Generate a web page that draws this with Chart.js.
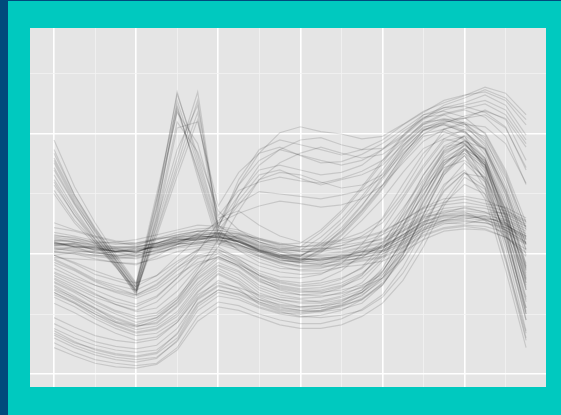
<!DOCTYPE html>
<html>
<head>
<meta charset="utf-8">
<script src="https://cdn.jsdelivr.net/npm/chart.js@4"></script>
<style>
  html, body { margin: 0; padding: 0; background: #00C9BF; }
  #strip { position: absolute; left: 0; top: 0; width: 8px; height: 415px; background: #004A7C; }
  #topline { position: absolute; left: 0; top: 0; width: 561px; height: 1px; background: #004A7C; }
  #wrap { position: absolute; left: 0; top: 0; width: 561px; height: 415px; }
</style>
</head>
<body>
<div id="strip"></div>
<div id="topline"></div>
<div id="wrap"><canvas id="chart" width="561" height="415"></canvas></div>
<script>
// sample positions along the x axis
const xs = [0, 1, 2, 3, 4, 5, 6, 7, 8, 9, 10, 11, 12, 13, 14, 15, 16, 17, 18, 19, 20, 21, 22, 23];

// gridline positions
const xMajor = [0, 4, 8, 12, 16, 20];
const xMinor = [2, 6, 10, 14, 18, 22];
const yMajor = [0, 10, 20];
const yMinor = [5, 15, 25];

// the dense flat band
const bandA = [
    [10.9,10.8,10.5,10.3,10.2,10.7,11.2,11.4,11.5,11.1,10.4,9.9,9.6,9.5,9.8,10.1,10.5,11.4,12.4,13.0,13.1,13.0,12.6,11.7],
    [11.4,11.2,10.9,10.6,10.6,10.9,11.5,11.7,11.8,11.5,10.9,10.3,10.0,10.0,10.2,10.6,11.0,11.9,12.9,13.5,13.6,13.4,13.1,12.3],
    [10.4,10.3,10.1,9.9,9.9,10.3,10.8,11.0,11.2,10.8,10.1,9.6,9.2,9.2,9.4,9.7,10.0,10.8,11.8,12.5,12.7,12.6,12.2,11.2],
    [11.0,10.6,10.6,10.2,10.5,10.5,11.0,11.6,11.3,11.3,10.6,10.0,9.5,9.7,9.7,10.2,10.3,11.2,12.1,12.8,13.3,12.9,12.8,11.9],
    [10.7,10.9,10.3,10.5,10.1,10.9,11.3,11.1,11.7,11.0,10.3,9.8,9.7,9.4,9.9,9.9,10.6,11.5,12.5,12.8,12.9,13.2,12.4,11.5],
    [11.8,11.5,11.1,10.9,10.8,11.2,11.6,11.9,12.0,11.6,11.0,10.5,10.2,10.2,10.5,10.8,11.3,12.2,13.2,13.8,14.0,13.8,13.3,12.5],
    [10.1,10.0,9.8,9.6,9.7,10.0,10.6,10.9,11.0,10.6,9.9,9.3,9.0,9.0,9.2,9.5,9.8,10.6,11.6,12.2,12.4,12.3,11.8,10.8],
    [11.2,11.0,10.7,10.4,10.4,10.8,11.0,11.4,11.6,11.4,10.7,10.2,9.8,9.8,10.0,10.3,10.7,11.6,12.6,13.2,13.4,13.2,12.9,12.1],
    [10.8,10.6,10.4,10.2,10.3,10.6,11.1,11.3,11.4,11.0,10.4,9.8,9.5,9.6,9.9,10.2,10.6,11.6,12.7,13.3,13.5,12.8,11.5,9.8],
    [10.6,10.5,10.2,10.1,10.0,10.5,10.9,11.2,11.4,11.0,10.2,9.7,9.4,9.3,9.6,9.9,10.2,11.0,12.0,12.7,12.8,12.6,12.0,10.9],
    [12.2,11.9,11.4,11.0,11.2,11.6,12.0,12.4,12.3,12.0,11.3,10.8,10.6,10.7,10.9,11.3,11.8,12.8,13.8,14.3,14.6,14.2,13.9,13.0],
    [9.7,9.6,9.5,9.3,9.2,9.6,10.2,10.5,10.8,10.3,9.6,9.0,8.6,8.6,8.9,9.1,9.4,10.2,11.2,11.9,12.1,12.0,11.4,10.4],
    [11.5,11.4,10.9,11.0,10.7,11.3,11.4,11.9,11.7,11.7,11.0,10.6,10.3,10.5,10.4,10.9,11.2,12.0,13.1,13.4,13.9,13.5,13.4,12.7],
    [10.3,10.6,10.0,10.2,9.8,10.4,10.9,10.8,11.3,10.7,10.2,9.5,9.3,9.1,9.5,9.6,10.2,10.9,12.0,12.6,12.5,12.9,12.0,11.0],
    [11.1,11.2,10.7,10.6,10.6,10.9,11.4,11.5,11.8,11.3,10.6,10.2,9.9,9.9,10.1,10.5,10.9,11.9,13.0,13.6,13.8,13.5,12.6,10.9],
    [10.5,10.2,10.2,9.8,10.1,10.2,10.8,11.3,11.1,11.1,10.3,9.7,9.3,9.5,9.6,10.0,10.5,11.4,12.4,13.1,13.2,12.9,12.2,11.4],
    [12.6,12.0,11.5,11.1,10.9,11.3,11.8,12.1,12.2,11.8,11.2,10.7,10.4,10.4,10.7,11.0,11.6,12.5,13.5,14.1,14.3,14.0,13.6,12.8],
    [9.9,10.1,9.9,9.8,9.6,10.1,10.5,10.7,10.9,10.5,9.8,9.2,8.9,8.9,9.1,9.4,9.7,10.5,11.5,12.1,12.3,12.1,11.4,10.1]
];

// band lines that climb early into the right hump
const humpEarly = [
    [10.9,10.7,10.4,10.2,10.3,10.6,11.1,11.4,11.5,11.1,10.4,9.9,9.8,10.8,12.2,14.1,16.2,18.6,20.4,20.8,20.1,18.6,14.9,9.9],
    [11.3,11.0,10.8,10.5,10.6,10.9,11.4,11.6,11.7,11.4,10.8,10.3,10.3,11.4,12.9,14.8,17.0,19.3,21.0,21.2,20.6,19.2,15.6,10.8],
    [10.5,10.4,10.1,9.9,9.9,10.3,10.8,11.0,11.2,10.8,10.0,9.5,9.3,10.1,11.5,13.3,15.4,17.8,19.8,20.2,19.5,17.9,14.1,9.2],
    [10.8,10.9,10.5,10.4,10.1,10.8,11.2,11.3,11.6,11.2,10.5,10.0,9.9,10.6,11.9,13.6,15.7,18.2,20.3,21.1,20.9,19.6,16.0,11.2],
    [11.0,10.6,10.6,10.2,10.4,10.6,11.0,11.5,11.4,11.1,10.3,9.8,9.6,10.3,11.6,13.5,15.5,18.0,20.0,20.4,19.6,17.6,13.4,8.4],
    [10.7,10.8,10.3,10.3,10.2,10.7,11.2,11.2,11.5,11.0,10.5,9.9,9.8,11.0,12.6,14.6,16.7,19.0,20.8,21.3,20.8,19.0,15.2,10.4],
    [11.6,11.3,11.0,10.8,10.9,11.2,11.6,11.9,12.0,11.7,11.2,10.8,10.9,12.0,13.6,15.6,17.8,19.9,21.6,21.9,21.4,20.0,16.8,12.0],
    [10.2,10.1,9.9,9.7,9.8,10.1,10.6,10.9,11.1,10.7,9.9,9.4,9.4,10.4,12.0,14.0,16.4,18.9,20.6,20.9,20.3,18.3,14.2,8.9],
    [11.1,11.0,10.6,10.5,10.5,10.9,11.3,11.6,11.7,11.3,10.7,10.4,10.6,11.8,13.4,15.4,17.6,19.8,21.4,21.6,20.9,19.4,16.4,12.2],
    [10.9,10.6,10.5,10.2,10.2,10.6,11.0,11.2,11.4,11.0,10.2,9.7,9.5,10.2,11.2,12.8,14.6,16.8,18.8,19.6,19.2,17.4,13.6,8.8]
];

// high start, pinch, then the sharp spike
const spike = [
    [17.8,14.5,11.8,9.5,7.2,14.1,23.5,17.8,12.2,15.75,17.8,18.7,18.25,17.8,17.4,17.8,18.7,19.75,21.2,22.0,22.4,22.8,22.0,19.5],
    [16.6,13.7,11.3,9.2,6.8,13.25,22.8,17.4,11.8,11.0,10.3,9.8,9.6,9.6,9.8,10.2,10.6,11.6,12.7,13.2,13.25,13.1,12.5,11.3],
    [15.75,13.25,11.2,9.1,7.0,13.7,22.0,17.0,11.6,14.5,16.6,17.0,16.3,15.75,16.2,16.6,17.4,19.1,20.5,21.2,21.3,22.0,21.2,17.8],
    [18.7,14.9,12.2,9.75,7.4,14.5,23.3,18.25,12.4,11.2,10.3,9.9,9.9,10.5,11.8,13.7,15.75,18.25,20.3,20.75,20.2,18.7,15.3,10.3],
    [17.0,14.1,11.6,9.3,6.8,12.4,18.0,23.5,12.2,16.2,18.7,19.5,19.1,18.7,18.25,18.7,19.5,20.75,21.8,22.8,23.25,23.5,22.8,20.75],
    [15.3,12.8,11.0,9.0,6.7,12.0,17.4,22.8,12.0,10.75,10.2,9.7,9.5,9.5,9.7,9.9,10.3,11.2,12.2,12.8,13.0,12.8,12.4,11.5],
    [18.0,14.7,12.0,9.5,7.2,12.8,18.7,22.4,12.4,14.9,17.0,17.4,17.0,16.6,16.8,17.4,18.7,20.2,21.3,22.2,22.6,23.25,22.4,19.9],
    [16.2,13.5,11.2,9.2,7.0,11.8,17.0,21.8,11.6,10.3,9.3,8.8,8.7,8.8,9.3,9.75,10.75,12.4,14.9,17.8,19.1,17.8,13.25,7.0],
    [17.2,14.2,11.5,9.4,7.0,13.0,21.0,18.5,13.6,12.0,11.0,10.4,10.2,10.3,10.7,11.5,12.6,14.8,17.4,19.6,20.4,19.8,16.6,11.4],
    [19.5,15.6,12.6,10.0,7.6,15.0,22.4,16.4,10.8,11.6,11.3,10.9,10.6,10.8,11.1,11.4,11.9,12.8,13.9,14.6,14.8,14.5,13.8,12.3],
    [16.0,13.2,11.0,9.0,6.6,12.5,20.5,21.0,14.0,16.8,18.4,18.9,18.2,17.6,17.7,18.3,19.2,20.4,21.6,22.2,22.3,21.8,20.6,17.0],
    [18.4,14.9,12.1,9.8,7.5,13.8,22.2,16.8,11.2,10.4,9.8,9.3,9.0,9.1,9.6,10.4,11.6,13.8,16.2,18.6,19.4,18.8,15.0,9.0],
    [15.0,12.6,10.8,8.9,6.9,11.5,16.5,21.2,13.2,15.3,16.0,16.4,16.1,15.9,16.3,16.9,17.8,19.4,20.8,21.6,22.0,21.4,19.8,15.8],
    [17.6,14.3,11.9,9.6,7.3,14.6,21.8,19.2,13.0,13.6,12.4,11.5,11.0,10.9,11.2,11.8,12.9,15.2,18.0,20.4,21.0,20.1,17.0,12.6]
];

// faint lines through the upper middle
const upperCloud = [
    [7.4,6.5,5.5,4.7,4.1,4.7,6.2,8.7,11.2,14.9,17.4,18.7,19.5,19.7,19.1,18.7,18.8,19.9,21.3,22.4,23.0,23.7,23.0,21.2],
    [9.5,8.7,7.8,7.2,6.6,7.4,8.8,10.3,12.0,14.1,16.2,16.8,16.6,16.0,15.5,15.75,16.6,18.7,20.3,21.0,21.3,21.6,20.5,17.2],
    [8.2,7.4,6.6,6.0,5.6,6.4,8.0,10.2,12.6,15.8,18.4,20.1,20.6,20.2,20.0,19.6,19.8,20.8,21.9,22.6,23.2,23.9,23.4,21.6],
    [9.9,9.2,8.3,7.8,7.3,8.2,9.8,11.3,12.8,14.2,15.2,15.0,14.8,14.6,14.9,15.3,16.4,18.4,20.0,20.9,21.5,21.9,21.3,18.9],
    [6.8,5.9,5.0,4.3,3.9,4.5,6.0,8.4,10.6,13.6,16.2,17.6,18.4,18.9,18.4,18.0,18.3,19.5,20.9,21.7,22.1,22.5,21.6,19.2],
    [10.2,10.0,9.6,9.3,9.1,9.8,10.8,11.7,12.6,13.4,14.0,14.4,14.2,13.9,14.1,14.6,15.7,17.6,19.4,20.4,20.8,20.6,19.2,15.9]
];

// low U-shaped group, late hump
const lowU = [
    [7.0,6.2,5.2,4.3,3.7,4.0,5.2,7.4,8.8,8.0,6.75,6.2,5.9,5.9,6.2,6.8,8.5,11.2,14.5,17.4,19.1,17.4,12.4,6.2],
    [7.6,6.8,5.8,5.0,4.3,4.7,5.9,8.0,9.3,8.6,7.4,6.8,6.6,6.7,7.2,8.2,10.3,13.3,16.6,19.0,19.8,17.0,11.0,4.5],
    [6.4,5.6,4.6,3.8,3.2,3.4,4.5,6.8,8.3,7.5,6.2,5.6,5.3,5.2,5.4,5.9,7.4,9.9,13.3,16.6,18.7,17.8,13.7,7.8],
    [7.3,6.3,5.5,4.4,4.0,4.2,5.6,7.6,9.0,8.3,7.0,6.4,6.2,6.0,6.4,7.0,8.8,11.8,15.3,18.2,19.5,18.0,13.0,7.0],
    [6.8,6.0,5.0,4.1,3.5,3.8,5.0,7.2,8.6,7.8,6.5,6.0,5.6,5.7,5.9,6.5,8.0,10.6,14.0,16.8,18.2,15.5,9.4,2.8],
    [7.9,7.0,6.0,5.2,4.6,4.9,6.2,8.2,9.6,8.9,7.7,7.1,6.8,6.9,7.3,8.0,9.6,12.4,15.6,17.8,18.4,16.2,11.6,5.5],
    [8.4,7.6,6.7,5.8,5.2,5.5,6.9,8.9,10.1,9.4,8.2,7.6,7.3,7.4,7.9,8.9,10.8,13.6,16.6,18.9,19.3,17.2,12.4,6.4],
    [5.9,5.1,4.2,3.4,2.8,3.1,4.3,6.4,7.8,7.1,5.8,5.2,4.8,4.7,4.9,5.3,6.4,8.4,11.2,14.4,16.7,16.4,13.2,8.6],
    [7.1,6.4,5.4,4.6,4.0,4.3,5.7,7.9,9.1,8.5,7.2,6.6,6.3,6.4,6.8,7.6,9.4,12.3,15.7,18.5,19.4,17.6,12.2,5.0],
    [6.6,5.9,4.8,4.0,3.4,3.7,4.8,6.9,8.4,7.6,6.4,5.7,5.5,5.5,5.7,6.2,7.6,10.0,13.4,16.6,18.2,16.2,10.5,3.6],
    [7.7,6.9,6.1,5.3,4.8,5.1,6.4,8.4,9.8,9.0,7.9,7.3,7.0,7.0,7.4,8.3,10.0,12.9,16.0,18.4,19.2,17.4,12.8,7.2]
];

// lowest group
const lowest = [
    [3.25,2.4,1.8,1.4,1.2,1.4,2.7,5.3,6.5,6.2,5.5,5.0,4.75,4.9,5.3,6.2,7.4,9.9,13.25,17.0,18.7,16.6,11.2,4.5],
    [2.6,1.8,1.2,0.9,0.7,0.9,2.2,4.8,6.0,5.7,5.0,4.5,4.2,4.2,4.6,5.4,6.6,8.9,12.0,15.6,17.6,16.0,11.5,5.5],
    [3.8,3.0,2.4,2.0,1.8,2.0,3.3,5.9,7.0,6.7,6.0,5.5,5.3,5.5,6.0,7.0,8.5,11.2,14.8,18.0,19.0,16.0,9.8,3.0],
    [3.0,2.2,1.6,1.2,1.0,1.3,2.8,5.6,6.8,6.4,5.6,5.1,5.0,5.2,5.7,6.6,7.8,10.2,13.0,15.8,17.0,14.6,8.7,2.2],
    [4.2,3.4,2.7,2.3,2.1,2.4,3.8,6.2,7.3,6.9,6.2,5.8,5.6,5.7,6.1,6.8,8.0,10.4,13.8,16.9,18.4,17.2,13.0,7.6],
    [3.6,2.7,2.0,1.6,1.4,1.7,3.0,5.8,7.0,6.6,5.9,5.3,5.1,5.3,5.8,6.8,8.2,10.9,14.4,17.6,18.8,16.9,11.9,5.2],
    [2.2,1.5,0.9,0.6,0.5,0.8,2.0,4.4,5.6,5.3,4.7,4.1,3.8,3.8,4.1,4.8,5.9,7.8,10.6,14.0,16.4,15.4,11.0,5.0],
    [4.7,3.9,3.2,2.8,2.6,2.9,4.3,6.6,7.6,7.2,6.6,6.2,6.0,6.1,6.5,7.3,8.6,11.0,14.3,17.4,18.8,17.6,13.6,8.2],
    [3.4,2.6,2.1,1.7,1.5,1.8,3.4,6.3,7.4,6.9,6.0,5.4,5.2,5.3,5.6,6.3,7.5,9.6,12.4,15.2,16.8,15.0,9.6,3.4]
];

// lines between the band and the low group
const middle = [
    [9.1,8.25,7.4,6.8,6.3,7.0,8.25,9.3,9.7,9.1,8.25,7.7,7.4,7.6,8.0,8.8,10.3,12.8,15.75,18.7,19.9,18.7,14.5,8.7],
    [8.5,7.8,7.0,6.3,5.8,6.5,8.0,9.6,10.2,9.3,8.0,7.2,6.9,6.8,7.0,7.4,8.3,10.1,12.6,15.3,16.8,15.6,11.8,6.0],
    [9.6,8.8,7.9,7.4,7.0,7.8,9.2,10.4,10.6,9.6,8.4,7.8,7.6,7.8,8.6,10.0,12.0,14.6,17.2,19.4,19.8,18.0,13.8,8.0],
    [9.9,9.3,8.6,8.0,7.6,8.2,9.4,10.3,10.4,9.5,8.6,8.1,8.0,8.3,9.2,10.8,13.0,15.8,18.4,20.0,20.2,18.8,15.4,10.8],
    [8.0,7.2,6.4,5.8,5.3,6.0,7.6,9.1,9.8,9.0,7.8,7.0,6.6,6.5,6.7,7.2,8.0,9.6,11.8,14.2,15.8,15.0,12.0,7.4],
    [8.8,8.0,7.4,6.9,6.5,7.2,8.6,9.8,10.0,9.2,8.2,7.4,7.1,7.2,7.6,8.4,9.8,12.2,15.0,17.6,18.6,17.4,13.2,7.6],
    [9.3,8.6,7.7,7.0,6.6,7.5,8.9,9.9,10.3,9.8,9.0,8.5,8.3,8.4,8.9,9.7,11.0,13.2,15.4,17.2,17.8,16.4,12.6,7.9]
];

const allLines = [].concat(bandA, humpEarly, spike, upperCloud, lowU, lowest, middle);

const datasets = allLines.map(vals => ({
    data: vals.map((v, i) => ({ x: xs[i], y: v })),
    borderColor: 'rgba(0, 0, 0, 0.13)',
    borderWidth: 1.2,
    pointRadius: 0,
    tension: 0,
    fill: false
}));

// grey panel behind the grid
const panelBg = {
    id: 'panelBg',
    beforeDraw(chart) {
        const { ctx, chartArea: a } = chart;
        ctx.save();
        ctx.fillStyle = '#E5E5E5';
        ctx.fillRect(a.left, a.top, a.right - a.left, a.bottom - a.top);
        ctx.restore();
    }
};

function gridScale(min, max, major, minor) {
    return {
        type: 'linear',
        min: min,
        max: max,
        afterBuildTicks: scale => {
            scale.ticks = major.concat(minor).sort((a, b) => a - b).map(v => ({ value: v }));
        },
        ticks: { display: false },
        border: { display: false },
        grid: {
            drawTicks: false,
            color: ctx => major.includes(ctx.tick.value) ? '#FFFFFF' : '#F2F2F2',
            lineWidth: ctx => major.includes(ctx.tick.value) ? 1.6 : 0.8
        }
    };
}

new Chart(document.getElementById('chart').getContext('2d'), {
    type: 'line',
    data: { datasets: datasets },
    options: {
        responsive: false,
        animation: false,
        layout: { padding: { left: 30, top: 28, right: 15, bottom: 28 } },
        plugins: { legend: { display: false }, tooltip: { enabled: false } },
        scales: {
            x: gridScale(-1.17, 23.97, xMajor, xMinor),
            y: gridScale(-1.08, 28.83, yMajor, yMinor)
        }
    },
    plugins: [panelBg]
});
</script>
</body>
</html>
